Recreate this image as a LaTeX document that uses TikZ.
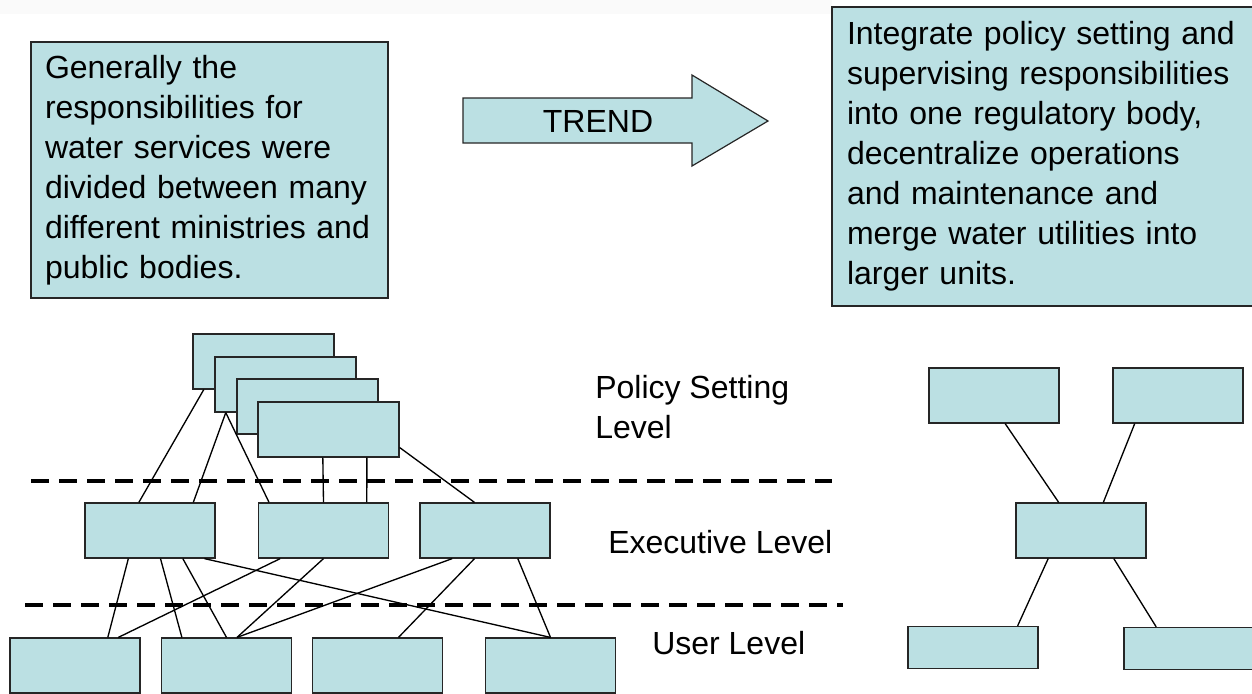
\documentclass[tikz,border=0pt]{standalone}
\usepackage{fontspec}
\setmainfont{Liberation Sans}
\usepackage{xcolor}
\usetikzlibrary{calc}
\definecolor{boxblue}{HTML}{BBE0E3}

\begin{document}
\begin{tikzpicture}[x=0.75pt,y=-0.75pt]
\tikzstyle{every node}=[font=\fontsize{24pt}{30pt}\selectfont]
\tikzstyle{orgbox}=[draw=black!85, fill=boxblue, line width=0.9pt, inner sep=0pt, minimum width=97.5pt, minimum height=41.25pt]
\tikzstyle{policybox}=[orgbox, minimum width=105.75pt]
\tikzstyle{textbox}=[draw=black!85, fill=boxblue, line width=0.9pt, align=left, inner xsep=10.5pt, inner ysep=0pt]
\tikzstyle{link}=[line width=1pt]
\tikzstyle{levelline}=[line width=3pt, dash pattern=on 13.5pt off 7.5pt]
\useasboundingbox (0,0) rectangle (1252,693);
\fill [black!2] (0,0) rectangle (832,14);
\node [textbox, text width=246.75pt, minimum height=192pt] (before) at (209.5,170) {Generally the\\responsibilities for\\water services were\\divided between many\\different ministries and\\public bodies.};
\node [textbox, text width=294pt, inner xsep=11.25pt, minimum height=224.25pt] (after) at (1043,156.5) {Integrate policy setting and\\supervising responsibilities\\into one regulatory body,\\decentralize operations\\and maintenance and\\merge water utilities into\\larger units.};
\draw [fill=boxblue, draw=black!85, line width=0.9pt] (463,98) -- (692,98) -- (692,75) -- (768,121) -- (692,166) -- (692,143) -- (463,143) -- cycle;
\node [inner sep=0pt] (trend) at (598,121) {TREND};
\draw [levelline] (31,481) -- (832,481);
\draw [levelline] (25,605) -- (843,605);
\node [policybox] (p1) at (263.5,361.5) {};
\node [policybox] (p2) at (285.5,384.5) {};
\node [policybox] (p3) at (307.5,406.5) {};
\node [policybox] (p4) at (328.5,429.5) {};
\node [orgbox] (e1) at (150,530.5) {};
\node [orgbox] (e2) at (323.5,530.5) {};
\node [orgbox] (e3) at (485,530.5) {};
\node [orgbox] (u1) at (75,665.5) {};
\node [orgbox] (u2) at (226.5,665.5) {};
\node [orgbox] (u3) at (377.5,665.5) {};
\node [orgbox] (u4) at (550.5,665.5) {};
\node [anchor=west, align=left, inner sep=0pt] (policylevel) at (595,407.5) {Policy Setting\\Level};
\node [anchor=west, inner sep=0pt] (execlevel) at (608,542) {Executive Level};
\node [anchor=west, inner sep=0pt] (userlevel) at (652,643) {User Level};
\draw [link] ($(p1.south west)!0.08!(p1.south east)$) -- ($(e1.north west)!0.415!(e1.north east)$);
\draw [link] ($(p2.south west)!0.08!(p2.south east)$) -- ($(e1.north west)!0.83!(e1.north east)$);
\draw [link] ($(p2.south west)!0.08!(p2.south east)$) -- ($(e2.north west)!0.085!(e2.north east)$);
\draw [link] ($(p4.south west)!0.46!(p4.south east)$) -- ($(e2.north west)!0.5!(e2.north east)$);
\draw [link] ($(p4.south west)!0.77!(p4.south east)$) -- ($(e2.north west)!0.83!(e2.north east)$);
\draw [link] ($(p4.north east)!0.82!(p4.south east)$) -- ($(e3.north west)!0.42!(e3.north east)$);
\draw [link] ($(e1.south west)!0.335!(e1.south east)$) -- ($(u1.north west)!0.75!(u1.north east)$);
\draw [link] ($(e1.south west)!0.58!(e1.south east)$) -- ($(u2.north west)!0.16!(u2.north east)$);
\draw [link] ($(e1.south west)!0.75!(e1.south east)$) -- ($(u2.north west)!0.5!(u2.north east)$);
\draw [link] ($(e1.south west)!0.915!(e1.south east)$) -- ($(u4.north west)!0.5!(u4.north east)$);
\draw [link] ($(e2.south west)!0.17!(e2.south east)$) -- ($(u1.north west)!0.83!(u1.north east)$);
\draw [link] ($(e2.south west)!0.5!(e2.south east)$) -- ($(u2.north west)!0.58!(u2.north east)$);
\draw [link] ($(e3.south west)!0.25!(e3.south east)$) -- ($(u2.north west)!0.58!(u2.north east)$);
\draw [link] ($(e3.south west)!0.42!(e3.south east)$) -- ($(u3.north west)!0.66!(u3.north east)$);
\draw [link] ($(e3.south west)!0.75!(e3.south east)$) -- ($(u4.north west)!0.5!(u4.north east)$);
\node [orgbox] (r1) at (994,395.5) {};
\node [orgbox] (r2) at (1178,395.5) {};
\node [orgbox] (c) at (1081,530.5) {};
\node [orgbox, minimum height=31.5pt] (b1) at (973,647.5) {};
\node [orgbox, minimum height=31.5pt] (b2) at (1189,648.5) {};
\draw [link] ($(r1.south west)!0.585!(r1.south east)$) -- ($(c.north west)!0.33!(c.north east)$);
\draw [link] ($(r2.south west)!0.17!(r2.south east)$) -- ($(c.north west)!0.67!(c.north east)$);
\draw [link] ($(c.south west)!0.25!(c.south east)$) -- ($(b1.north west)!0.84!(b1.north east)$);
\draw [link] ($(c.south west)!0.75!(c.south east)$) -- ($(b2.north west)!0.25!(b2.north east)$);
\end{tikzpicture}
\end{document}
